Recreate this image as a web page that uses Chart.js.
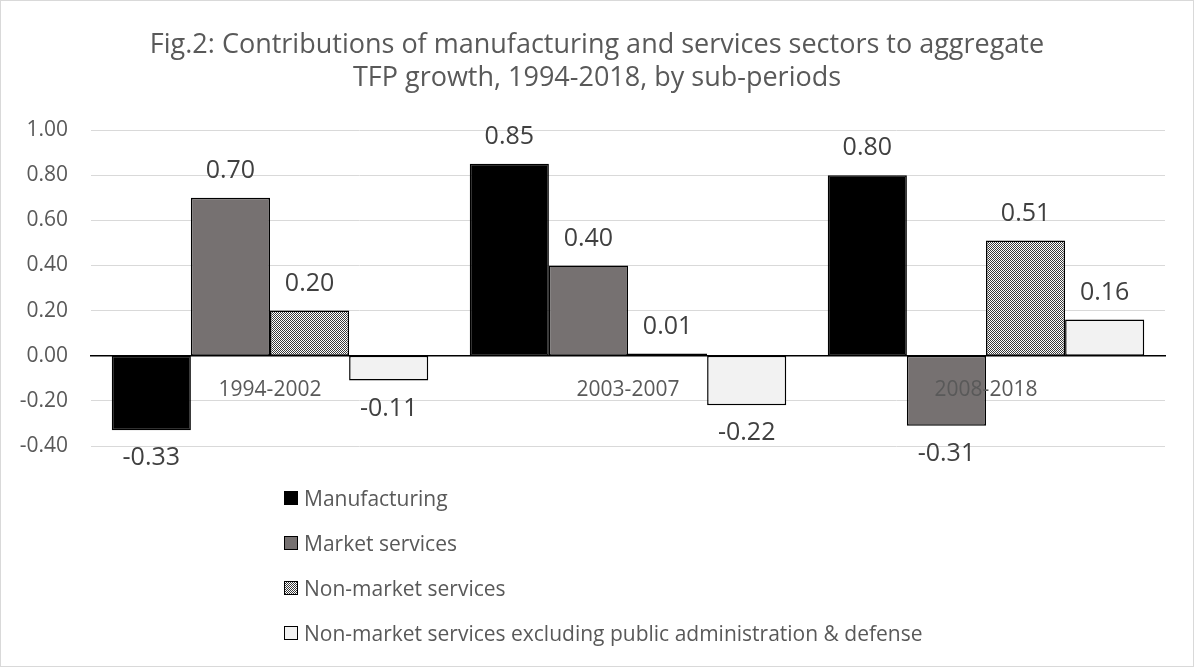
<!DOCTYPE html>
<html lang="en">
<head>
    <meta charset="UTF-8">
    <title>Fig.2</title>
    <style>
        body { margin: 0; background: #fff; }
        .frame {
            position: relative;
            width: 1194px;
            height: 667px;
        }
        .frame canvas { position: absolute; left: 0; top: 0; }
        .border {
            position: absolute;
            inset: 0;
            border: 1px solid #d9d9d9;
            pointer-events: none;
        }
        .legend {
            position: absolute;
            left: 284px;
            top: 475px;
            font-family: 'Open Sans', sans-serif;
            font-size: 21px;
            color: #595959;
        }
        .legend-item {
            height: 45px;
            display: flex;
            align-items: center;
        }
        .swatch {
            width: 12px;
            height: 12px;
            border: 1.5px solid #000;
            margin-right: 6px;
            flex: none;
        }
    </style>
</head>
<body>
    <div class="frame">
        <canvas id="tfpChart" width="1194" height="667"></canvas>
        <div class="legend" id="legend"></div>
        <div class="border"></div>
    </div>

    <script src="https://cdn.jsdelivr.net/npm/chart.js"></script>
    <script>
        // datos
        const categories = ['1994-2002', '2003-2007', '2008-2018'];
        const seriesNames = [
            'Manufacturing',
            'Market services',
            'Non-market services',
            'Non-market services excluding public administration & defense'
        ];
        const manufacturing = [-0.33, 0.85, 0.80];
        const marketServices = [0.70, 0.40, -0.31];
        const nonMarketServices = [0.20, 0.01, 0.51];
        const nonMarketExclPad = [-0.11, -0.22, 0.16];
        const yMin = -0.4, yMax = 1.0, yStep = 0.2;

        // patrón de puntos para non-market services
        function checkerPattern() {
            const c = document.createElement('canvas');
            c.width = 2; c.height = 2;
            const g = c.getContext('2d');
            g.fillStyle = '#ffffff';
            g.fillRect(0, 0, 2, 2);
            g.fillStyle = '#3a3a3a';
            g.fillRect(0, 0, 1, 1);
            g.fillRect(1, 1, 1, 1);
            return g.createPattern(c, 'repeat');
        }

        const fills = ['#000000', '#767171', checkerPattern(), '#f2f2f2'];
        const swatchCss = [
            'background:#000000',
            'background:#767171',
            'background:repeating-conic-gradient(#3a3a3a 0 25%, #fff 0 50%) 0 0/2px 2px',
            'background:#f2f2f2'
        ];
        const allSeries = [manufacturing, marketServices, nonMarketServices, nonMarketExclPad];

        // etiquetas de valores sobre/debajo de las barras
        const valueLabels = {
            id: 'valueLabels',
            afterDatasetsDraw(chart) {
                const ctx = chart.ctx;
                ctx.save();
                ctx.font = '25px "Open Sans"';
                ctx.fillStyle = '#404040';
                ctx.textAlign = 'center';
                ctx.textBaseline = 'middle';
                chart.data.datasets.forEach((ds, i) => {
                    chart.getDatasetMeta(i).data.forEach((bar, j) => {
                        const v = ds.data[j];
                        const y = v >= 0 ? bar.y - 27 : bar.y + 28;
                        ctx.fillText(v.toFixed(2), bar.x, y);
                    });
                });
                ctx.restore();
            }
        };

        const ctx = document.getElementById('tfpChart');
        const tfpChart = new Chart(ctx, {
            type: 'bar',
            data: {
                labels: categories,
                datasets: allSeries.map((d, i) => ({
                    label: seriesNames[i],
                    data: d,
                    backgroundColor: fills[i],
                    borderColor: '#000000',
                    borderWidth: 1.5,
                    borderSkipped: false,
                    barPercentage: 1,
                    categoryPercentage: 0.884
                }))
            },
            options: {
                responsive: false,
                animation: false,
                layout: {
                    padding: { top: 11, bottom: 221, left: 0, right: 0 }
                },
                plugins: {
                    legend: { display: false },
                    tooltip: { enabled: false },
                    title: {
                        display: true,
                        text: ['Fig.2: Contributions of manufacturing and services sectors to aggregate',
                               'TFP growth, 1994-2018, by sub-periods'],
                        color: '#595959',
                        font: { family: 'Open Sans', size: 27, weight: 'normal', lineHeight: 1.25 },
                        padding: { top: 17, bottom: 34.5 }
                    }
                },
                scales: {
                    x: {
                        position: { y: 0 },
                        grid: { display: false, drawTicks: false },
                        border: { color: '#000000', width: 1.5, z: 1 },
                        ticks: {
                            z: 1,
                            padding: 22,
                            color: '#595959',
                            font: { family: 'Open Sans', size: 21 }
                        }
                    },
                    y: {
                        min: yMin,
                        max: yMax,
                        afterFit(scale) { scale.width = 91; },
                        grid: { color: '#d9d9d9', lineWidth: 1, drawTicks: false },
                        border: { display: false },
                        ticks: {
                            stepSize: yStep,
                            padding: 23,
                            color: '#595959',
                            font: { family: 'Open Sans', size: 21 },
                            callback: v => (Math.abs(v) < 1e-9 ? 0 : Number(v)).toFixed(2)
                        }
                    },
                    // eje vacío a la derecha: deja el margen sin descentrar el título
                    yRight: {
                        position: 'right',
                        afterFit(scale) { scale.width = 29; },
                        grid: { display: false, drawTicks: false },
                        border: { display: false },
                        ticks: { display: false }
                    }
                }
            },
            plugins: [valueLabels]
        });

        // leyenda vertical
        const legendEl = document.getElementById('legend');
        seriesNames.forEach((name, i) => {
            const row = document.createElement('div');
            row.className = 'legend-item';
            row.innerHTML = '<span class="swatch" style="' + swatchCss[i] + '"></span><span>' + name + '</span>';
            legendEl.appendChild(row);
        });
    </script>
</body>
</html>
